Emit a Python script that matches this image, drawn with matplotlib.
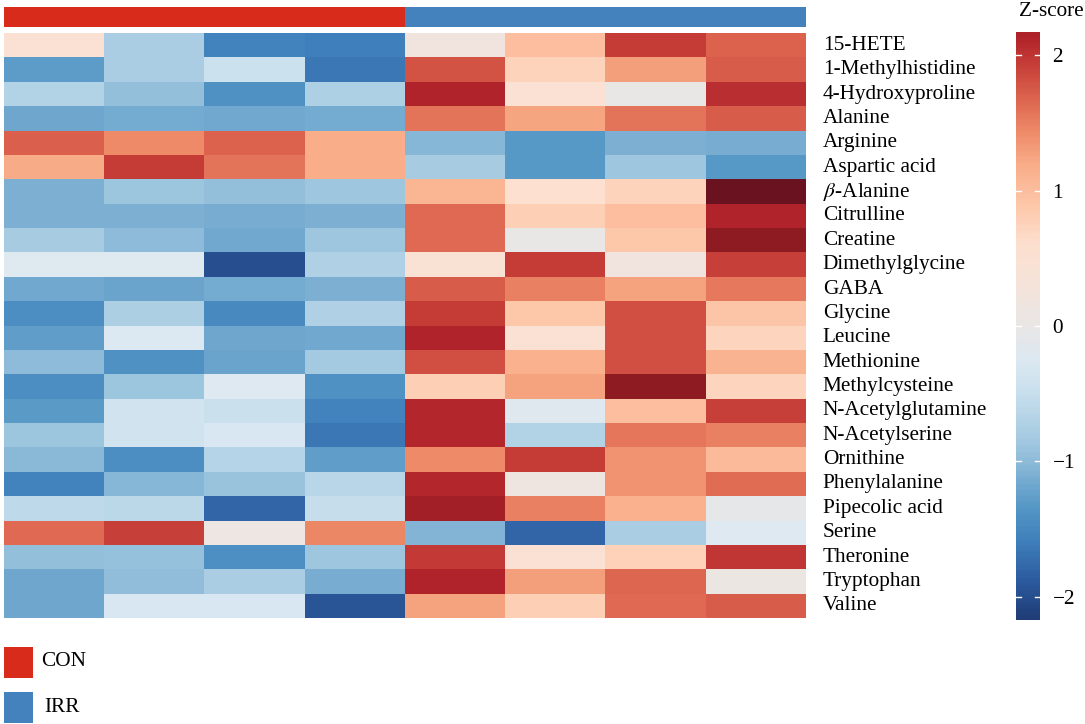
import matplotlib
matplotlib.use("Agg")
import matplotlib.pyplot as plt
import numpy as np
from matplotlib.colors import LinearSegmentedColormap, ListedColormap, Normalize

plt.rcParams['font.family'] = ['Liberation Serif', 'DejaVu Serif']
plt.rcParams['mathtext.fontset'] = 'stix'
FS = 15.3

metabolites = ["15-HETE", "1-Methylhistidine", "4-Hydroxyproline", "Alanine",
               "Arginine", "Aspartic acid", r"$\beta$-Alanine", "Citrulline",
               "Creatine", "Dimethylglycine", "GABA", "Glycine", "Leucine",
               "Methionine", "Methylcysteine", "N-Acetylglutamine",
               "N-Acetylserine", "Ornithine", "Phenylalanine", "Pipecolic acid",
               "Serine", "Theronine", "Tryptophan", "Valine"]

groups = ["CON", "CON", "CON", "CON", "IRR", "IRR", "IRR", "IRR"]
group_colors = {"CON": "#d92b1c", "IRR": "#4382bd"}

# z-scores, rows = metabolites, columns = samples (4 CON then 4 IRR)
zscore = [
    [0.50, -0.80, -1.55, -1.60, 0.20, 1.00, 1.95, 1.70],
    [-1.30, -0.80, -0.45, -1.65, 1.80, 0.75, 1.30, 1.75],
    [-0.70, -0.95, -1.40, -0.75, 2.15, 0.50, 0.00, 2.05],
    [-1.20, -1.15, -1.18, -1.15, 1.60, 1.25, 1.60, 1.75],
    [1.72, 1.45, 1.70, 1.20, -1.05, -1.35, -1.10, -1.12],
    [1.22, 1.95, 1.60, 1.20, -0.82, -1.35, -0.88, -1.35],
    [-1.10, -0.90, -0.97, -0.88, 1.10, 0.60, 0.75, 2.70],
    [-1.10, -1.10, -1.12, -1.10, 1.65, 0.80, 1.00, 2.15],
    [-0.82, -1.00, -1.18, -0.87, 1.65, 0.00, 0.90, 2.40],
    [-0.20, -0.20, -2.00, -0.72, 0.45, 1.95, 0.20, 1.93],
    [-1.18, -1.22, -1.15, -1.10, 1.75, 1.50, 1.28, 1.55],
    [-1.45, -0.78, -1.48, -0.72, 1.95, 0.90, 1.82, 0.92],
    [-1.28, -0.25, -1.20, -1.17, 2.15, 0.50, 1.82, 0.72],
    [-1.00, -1.40, -1.22, -0.83, 1.82, 1.15, 1.82, 1.12],
    [-1.45, -0.90, -0.22, -1.40, 0.80, 1.27, 2.40, 0.72],
    [-1.32, -0.40, -0.48, -1.55, 2.12, -0.18, 1.00, 1.92],
    [-0.90, -0.38, -0.30, -1.65, 2.13, -0.70, 1.58, 1.50],
    [-1.02, -1.45, -0.68, -1.28, 1.45, 1.95, 1.38, 1.05],
    [-1.55, -1.05, -0.92, -0.65, 2.12, 0.15, 1.38, 1.63],
    [-0.60, -0.63, -1.80, -0.52, 2.25, 1.50, 1.15, -0.05],
    [1.65, 1.92, 0.10, 1.47, -1.07, -1.80, -0.80, -0.22],
    [-0.95, -0.93, -1.43, -0.88, 1.97, 0.50, 0.78, 2.00],
    [-1.20, -0.98, -0.80, -1.13, 2.15, 1.30, 1.67, 0.08],
    [-1.20, -0.30, -0.30, -1.95, 1.28, 0.80, 1.65, 1.75],
]
data = np.array(zscore)

# colour scale (value, colour)
anchors = [(-2.7, "#142850"), (-2.2, "#1f3a73"), (-1.9, "#2b5a9e"), (-1.6, "#3f7fbb"),
           (-1.35, "#5597c6"), (-1.15, "#75abd0"), (-1.0, "#8fbcd9"), (-0.8, "#a9cde3"),
           (-0.5, "#c8dfed"), (-0.25, "#dde9f2"), (0.0, "#e9e7e6"), (0.3, "#f5e3da"),
           (0.6, "#fde0cf"), (0.9, "#fdc7a9"), (1.2, "#f9ad89"), (1.45, "#ee8a68"),
           (1.7, "#dc634e"), (1.95, "#c63d38"), (2.15, "#b0232a"), (2.4, "#8e1a22"),
           (2.7, "#6b1220")]
vmin, vmax = -2.7, 2.7
cmap = LinearSegmentedColormap.from_list(
    "zs", [((v - vmin) / (vmax - vmin), c) for v, c in anchors])
norm = Normalize(vmin, vmax)

W, H = 1085, 724
fig = plt.figure(figsize=(W / 100, H / 100), dpi=100)

def box(x0, y0, x1, y1):
    return [x0 / W, 1 - y1 / H, (x1 - x0) / W, (y1 - y0) / H]

# heatmap
ax = fig.add_axes(box(4, 33, 806, 618))
nr, nc = data.shape
ax.pcolormesh(np.arange(nc + 1), np.arange(nr + 1), data, cmap=cmap, norm=norm)
ax.set_xlim(0, nc)
ax.set_ylim(nr, 0)
ax.set_xticks([])
ax.yaxis.tick_right()
ax.set_yticks(np.arange(nr) + 0.4)
ax.set_yticklabels(metabolites, fontsize=FS)
ax.tick_params(axis='y', length=0, pad=12)
for s in ax.spines.values():
    s.set_visible(False)

# group annotation bar
axa = fig.add_axes(box(4, 7, 806, 27))
gcodes = np.array([[0 if g == "CON" else 1 for g in groups]])
axa.pcolormesh(np.arange(nc + 1), [0, 1], gcodes,
               cmap=ListedColormap([group_colors["CON"], group_colors["IRR"]]), vmin=0, vmax=1)
axa.set_xlim(0, nc)
axa.axis('off')

# colour bar
lo, hi = -2.17, 2.17
cax = fig.add_axes(box(1016, 32, 1040, 620))
grad = np.linspace(lo, hi, 300).reshape(-1, 1)
cax.imshow(grad, cmap=cmap, norm=norm, aspect='auto', origin='lower',
           extent=[0, 1, lo, hi])
cax.set_xlim(0, 1)
cax.set_ylim(lo, hi)
cax.set_xticks([])
ticks = [-2, -1, 0, 1, 2]
cax.yaxis.tick_right()
cax.set_yticks(ticks)
cax.set_yticklabels(["\u22122", "\u22121", "0", "1", "2"], fontsize=FS)
cax.tick_params(axis='y', length=0, pad=9)
for t in ticks:
    cax.plot([0, 0.2], [t, t], color='white', lw=1)
    cax.plot([0.8, 1], [t, t], color='white', lw=1)
for s in cax.spines.values():
    s.set_visible(False)
fig.text(1051 / W, 1 - 12 / H, "Z-score", fontsize=FS, ha='center', va='center')

# legend
for i, g in enumerate(["CON", "IRR"]):
    y0 = 647 + i * 45
    lax = fig.add_axes(box(4, y0, 33, y0 + 31))
    lax.set_facecolor(group_colors[g])
    lax.set_xticks([])
    lax.set_yticks([])
    for s in lax.spines.values():
        s.set_visible(False)
    fig.text((41 + 3 * i) / W, 1 - (y0 + 15) / H, g, fontsize=FS, va='center')

fig.savefig("out.png", dpi=100)
